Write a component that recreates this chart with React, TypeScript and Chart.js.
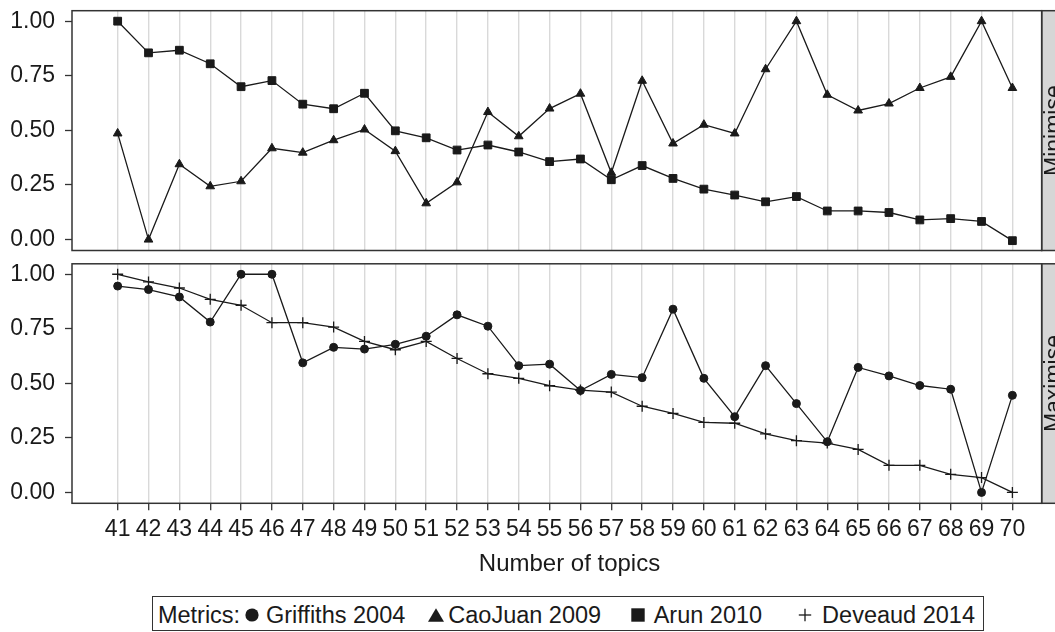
import React, { useEffect, useRef } from 'react';
import { Chart, registerables } from 'chart.js';

Chart.register(...registerables);

// ---- data ----
const topics = [41, 42, 43, 44, 45, 46, 47, 48, 49, 50, 51, 52, 53, 54, 55, 56, 57, 58, 59, 60, 61, 62, 63, 64, 65, 66, 67, 68, 69, 70];
const griffiths2004 = [0.946, 0.93, 0.896, 0.781, 1.0, 1.0, 0.594, 0.665, 0.657, 0.679, 0.716, 0.814, 0.762, 0.581, 0.588, 0.467, 0.541, 0.526, 0.84, 0.523, 0.347, 0.581, 0.407, 0.232, 0.573, 0.534, 0.49, 0.473, 0.0, 0.445];
const caoJuan2009 = [0.486, 0.0, 0.345, 0.244, 0.267, 0.418, 0.398, 0.455, 0.504, 0.405, 0.166, 0.262, 0.584, 0.473, 0.6, 0.668, 0.306, 0.727, 0.44, 0.526, 0.486, 0.78, 1.0, 0.663, 0.591, 0.623, 0.694, 0.745, 1.0, 0.694];
const arun2010 = [1.0, 0.855, 0.867, 0.805, 0.7, 0.728, 0.62, 0.599, 0.67, 0.498, 0.466, 0.41, 0.433, 0.401, 0.357, 0.369, 0.274, 0.339, 0.28, 0.231, 0.204, 0.173, 0.197, 0.131, 0.131, 0.124, 0.09, 0.096, 0.083, -0.005];
const deveaud2014 = [1.0, 0.965, 0.937, 0.885, 0.858, 0.778, 0.778, 0.758, 0.692, 0.654, 0.692, 0.614, 0.544, 0.523, 0.489, 0.469, 0.46, 0.395, 0.362, 0.321, 0.317, 0.268, 0.237, 0.226, 0.197, 0.124, 0.124, 0.083, 0.068, 0.0];
const yTickValues = [0, 0.25, 0.5, 0.75, 1];
const panelLabels = ['Minimise', 'Maximise'];
const seriesLabels = ['Griffiths 2004', 'CaoJuan 2009', 'Arun 2010', 'Deveaud 2014'];
const legendTitle = 'Metrics:';
const xAxisTitle = 'Number of topics';

// ---- styling ----
const FONT = "'Liberation Sans', Arial, Helvetica, sans-serif";
const INK = '#1a1a1a';
const FRAME = '#333333';
const X_MIN = 39.52;
const X_MAX = 70.95;
const Y_MIN = -0.05;
const Y_MAX = 1.048;

const toPoints = (vals: number[]) => vals.map((v, i) => ({ x: topics[i], y: v }));

function makeDataset(label: string, vals: number[], pointStyle: string, radius: number) {
  return {
    label,
    data: toPoints(vals),
    borderColor: INK,
    backgroundColor: INK,
    borderWidth: 1.3,
    pointStyle,
    pointRadius: radius,
    pointBorderWidth: pointStyle === 'cross' ? 1.3 : 1,
    pointBackgroundColor: INK,
    pointBorderColor: INK,
    tension: 0,
  };
}

const stripPlugin = {
  id: 'strip',
  afterDraw(chart: any, _args: any, opts: any) {
    const { ctx, chartArea: a } = chart;
    ctx.save();
    ctx.fillStyle = '#d6d6d6';
    ctx.fillRect(a.right, a.top, 40, a.bottom - a.top);
    ctx.strokeStyle = FRAME;
    ctx.lineWidth = 1.5;
    ctx.strokeRect(a.left, a.top, a.right - a.left, a.bottom - a.top);
    ctx.strokeRect(a.right, a.top, 40, a.bottom - a.top);
    ctx.translate(a.right + 19, (a.top + a.bottom) / 2);
    ctx.rotate(-Math.PI / 2);
    ctx.fillStyle = INK;
    ctx.font = `23px ${FONT}`;
    ctx.textAlign = 'center';
    ctx.textBaseline = 'alphabetic';
    ctx.fillText(opts.label || '', 0, 0);
    ctx.restore();
  },
};

function makeConfig(datasets: any[], stripLabel: string, showX: boolean, padding: any): any {
  return {
    type: 'line',
    data: { datasets },
    options: {
      animation: false,
      responsive: false,
      maintainAspectRatio: false,
      layout: { padding },
      plugins: {
        legend: { display: false },
        tooltip: { enabled: false },
        strip: { label: stripLabel },
      },
      scales: {
        x: {
          type: 'linear',
          min: X_MIN,
          max: X_MAX,
          afterBuildTicks: (s: any) => {
            s.ticks = topics.map((v) => ({ value: v }));
          },
          afterFit: (s: any) => {
            s.paddingLeft = 0;
            s.paddingRight = 0;
            s.height = showX ? 44 : 0;
          },
          grid: {
            color: '#d9d9d9',
            lineWidth: 1.4,
            drawTicks: showX,
            tickLength: 7,
            tickColor: FRAME,
            tickWidth: 1.3,
          },
          border: { display: false },
          ticks: {
            display: showX,
            autoSkip: false,
            maxRotation: 0,
            minRotation: 0,
            padding: 5.5,
            color: INK,
            font: { family: FONT, size: 23 },
            callback: (v: any) => String(v),
          },
        },
        y: {
          type: 'linear',
          min: Y_MIN,
          max: Y_MAX,
          afterBuildTicks: (s: any) => {
            s.ticks = yTickValues.map((v) => ({ value: v }));
          },
          afterFit: (s: any) => {
            s.width = 72;
            s.paddingTop = 0;
            s.paddingBottom = 0;
          },
          grid: {
            drawOnChartArea: false,
            drawTicks: true,
            tickLength: 7,
            tickColor: FRAME,
            tickWidth: 1.3,
          },
          border: { display: false },
          ticks: {
            padding: 10,
            color: INK,
            font: { family: FONT, size: 23 },
            callback: (v: any) => Number(v).toFixed(2),
          },
        },
      },
    },
    plugins: [stripPlugin],
  };
}

function Marker({ kind }: { kind: string }) {
  const box = { width: 16, height: 16, display: 'block' as const, flex: '0 0 auto' };
  if (kind === 'circle')
    return (
      <svg style={box} viewBox="0 0 16 16">
        <circle cx="8" cy="8" r="6.6" fill={INK} />
      </svg>
    );
  if (kind === 'triangle')
    return (
      <svg style={box} viewBox="0 0 16 16">
        <polygon points="8,1.2 16,14.8 0,14.8" fill={INK} />
      </svg>
    );
  if (kind === 'rect')
    return (
      <svg style={box} viewBox="0 0 16 16">
        <rect x="1.3" y="1.3" width="13.4" height="13.4" fill={INK} />
      </svg>
    );
  return (
    <svg style={box} viewBox="0 0 16 16">
      <line x1="1.8" y1="8" x2="14.2" y2="8" stroke={INK} strokeWidth="1.3" />
      <line x1="8" y1="1.8" x2="8" y2="14.2" stroke={INK} strokeWidth="1.3" />
    </svg>
  );
}

const legendShapes = ['circle', 'triangle', 'rect', 'cross'];
const legendMarkerGap = [4.3, 22.3, 29, 34.5];
const legendLabelGap = [5.5, 4.7, 7.5, 9.5];

export default function App() {
  const topRef = useRef<HTMLCanvasElement>(null);
  const bottomRef = useRef<HTMLCanvasElement>(null);

  useEffect(() => {
    document.body.style.margin = '0';
    const top = new Chart(
      topRef.current as HTMLCanvasElement,
      makeConfig(
        [
          makeDataset(seriesLabels[1], caoJuan2009, 'triangle', 5),
          makeDataset(seriesLabels[2], arun2010, 'rect', 5.5),
        ],
        panelLabels[0],
        false,
        { top: 10.7, bottom: 3.3, left: 0, right: 13.3 }
      )
    );
    const bottom = new Chart(
      bottomRef.current as HTMLCanvasElement,
      makeConfig(
        [
          makeDataset(seriesLabels[0], griffiths2004, 'circle', 4),
          makeDataset(seriesLabels[3], deveaud2014, 'cross', 5.5),
        ],
        panelLabels[1],
        true,
        { top: 4, bottom: 32.7, left: 0, right: 13.3 }
      )
    );
    return () => {
      top.destroy();
      bottom.destroy();
    };
  }, []);

  return (
    <div style={{ position: 'relative', width: 1055, height: 632, overflow: 'hidden', background: '#fff', fontFamily: FONT }}>
      <canvas ref={topRef} width={1055} height={257} style={{ position: 'absolute', left: 0, top: 0, width: 1055, height: 257 }} />
      <canvas ref={bottomRef} width={1055} height={323} style={{ position: 'absolute', left: 0, top: 257, width: 1055, height: 323 }} />
      <div
        style={{
          position: 'absolute',
          left: 419.5,
          width: 300,
          top: 549,
          textAlign: 'center',
          fontSize: 24,
          color: INK,
          whiteSpace: 'nowrap',
        }}
      >
        {xAxisTitle}
      </div>
      <div
        style={{
          position: 'absolute',
          left: 152,
          top: 596,
          boxSizing: 'border-box',
          height: 35,
          border: `1.5px solid ${FRAME}`,
          display: 'flex',
          alignItems: 'flex-start',
          padding: '5.2px 8px 0 4.9px',
          fontSize: 23.5,
          color: INK,
          whiteSpace: 'nowrap',
        }}
      >
        <span>{legendTitle}</span>
        {seriesLabels.map((lab, i) => (
          <React.Fragment key={lab}>
            <span style={{ marginLeft: legendMarkerGap[i], marginTop: 5.2 }}>
              <Marker kind={legendShapes[i]} />
            </span>
            <span style={{ marginLeft: legendLabelGap[i] }}>{lab}</span>
          </React.Fragment>
        ))}
      </div>
    </div>
  );
}
